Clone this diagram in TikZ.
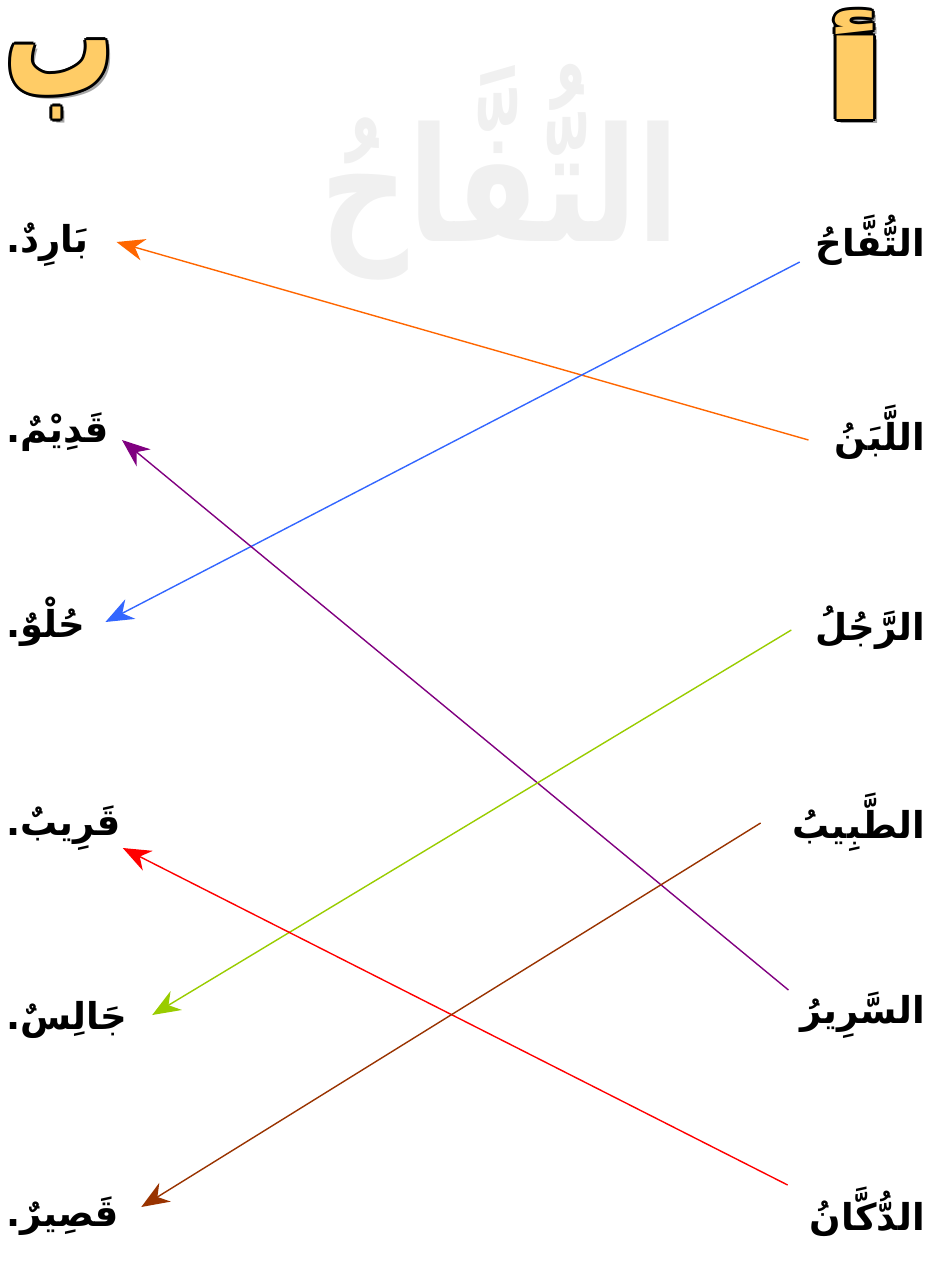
\documentclass[tikz,border=0pt]{standalone}
\usepackage{fontspec}
\usetikzlibrary{arrows.meta}
\newfontfamily\arabicfont[Script=Arabic]{DejaVu Sans}
\TeXXeTstate=1
\definecolor{hdrfill}{RGB}{255,204,102}
\definecolor{wmark}{RGB}{240,240,240}
\definecolor{lorange}{RGB}{255,102,0}
\definecolor{lblue}{RGB}{51,102,255}
\definecolor{lpurple}{RGB}{128,0,128}
\definecolor{lgreen}{RGB}{153,204,0}
\definecolor{lred}{RGB}{255,0,0}
\definecolor{lbrown}{RGB}{153,51,0}

\begin{document}
\begin{tikzpicture}[x=1pt, y=1pt,
  word/.style={font=\arabicfont\bfseries\fontsize{37}{44}\selectfont, inner sep=2pt},
  lword/.style={word, anchor=west},
  rword/.style={word, anchor=east},
  hdr/.style={font=\arabicfont\bfseries\fontsize{110}{120}\selectfont, inner sep=0pt},
  arr/.style={-{Stealth[length=28pt, width=22pt, inset=9pt]}, line width=1.4pt},
]
\useasboundingbox (0,0) rectangle (929,-1261);

% faint title behind everything
\node[font=\arabicfont\bfseries\fontsize{122}{130}\selectfont, text=wmark] (wm) at (500,-172)
  {\scalebox{1}[1.3]{\beginR التُّفَّاحُ\endR}};

% ---------- column headers ----------
\coordinate (hb) at (60,-80);
\coordinate (hbs) at (64,-84);
\coordinate (ha) at (855,-65);
\coordinate (has) at (859,-69);
\node[hdr, text=black!35] at (hbs) {\scalebox{1}[1.5]{ب}};
\node[hdr, text=black!35] at (has) {\scalebox{1.9}[1]{أ}};
\foreach \a in {0,45,...,315}{
  \node[hdr, text=black] at ([shift={(\a:3pt)}]hb) {\scalebox{1}[1.5]{ب}};
  \node[hdr, text=black] at ([shift={(\a:3pt)}]ha) {\scalebox{1.9}[1]{أ}};
}
\node[hdr, text=hdrfill] (colB) at (hb) {\scalebox{1}[1.5]{ب}};
\node[hdr, text=hdrfill] (colA) at (ha) {\scalebox{1.9}[1]{أ}};

% ---------- column A (right) ----------
\node[rword] (tuffah) at (927,-240) {\beginR التُّفَّاحُ\endR};
\node[rword] (laban)  at (927,-432) {\beginR اللَّبَنُ\endR};
\node[rword] (rajul)  at (927,-628) {\beginR الرَّجُلُ\endR};
\node[rword] (tabib)  at (927,-822) {\beginR الطَّبِيبُ\endR};
\node[rword] (sarir)  at (927,-1015) {\beginR السَّرِيرُ\endR};
\node[rword] (dukkan) at (927,-1212) {\beginR الدُّكَّانُ\endR};

% ---------- column B (left) ----------
\node[lword] (barid)  at (4,-245) {\beginR بَارِدٌ.\endR};
\node[lword] (qadim)  at (4,-432) {\beginR قَدِيْمٌ.\endR};
\node[lword] (hulw)   at (4,-622) {\beginR حُلْوٌ.\endR};
\node[lword] (qarib)  at (4,-828) {\beginR قَرِيبٌ.\endR};
\node[lword] (jalis)  at (4,-1020) {\beginR جَالِسٌ.\endR};
\node[lword] (qasir)  at (4,-1216) {\beginR قَصِيرٌ.\endR};

% ---------- matching arrows ----------
\draw[arr, lorange] ([xshift=-24pt,yshift=-8pt]laban.west)   -- ([xshift=26pt,yshift=3pt]barid.east);
\draw[arr, lblue]   ([xshift=-14pt,yshift=-22pt]tuffah.west) -- ([xshift=18pt]hulw.east);
\draw[arr, lpurple] ([xshift=-10pt,yshift=25pt]sarir.west)   -- ([xshift=11pt,yshift=-8pt]qadim.east);
\draw[arr, lgreen]  ([xshift=-22pt,yshift=-2pt]rajul.west)   -- ([xshift=23pt,yshift=5pt]jalis.east);
\draw[arr, lred]    ([xshift=-20pt,yshift=27pt]dukkan.west)  -- ([yshift=-20pt]qarib.east);
\draw[arr, lbrown]  ([xshift=-30pt,yshift=-1pt]tabib.west)   -- ([xshift=20pt,yshift=9pt]qasir.east);

\end{tikzpicture}
\end{document}
